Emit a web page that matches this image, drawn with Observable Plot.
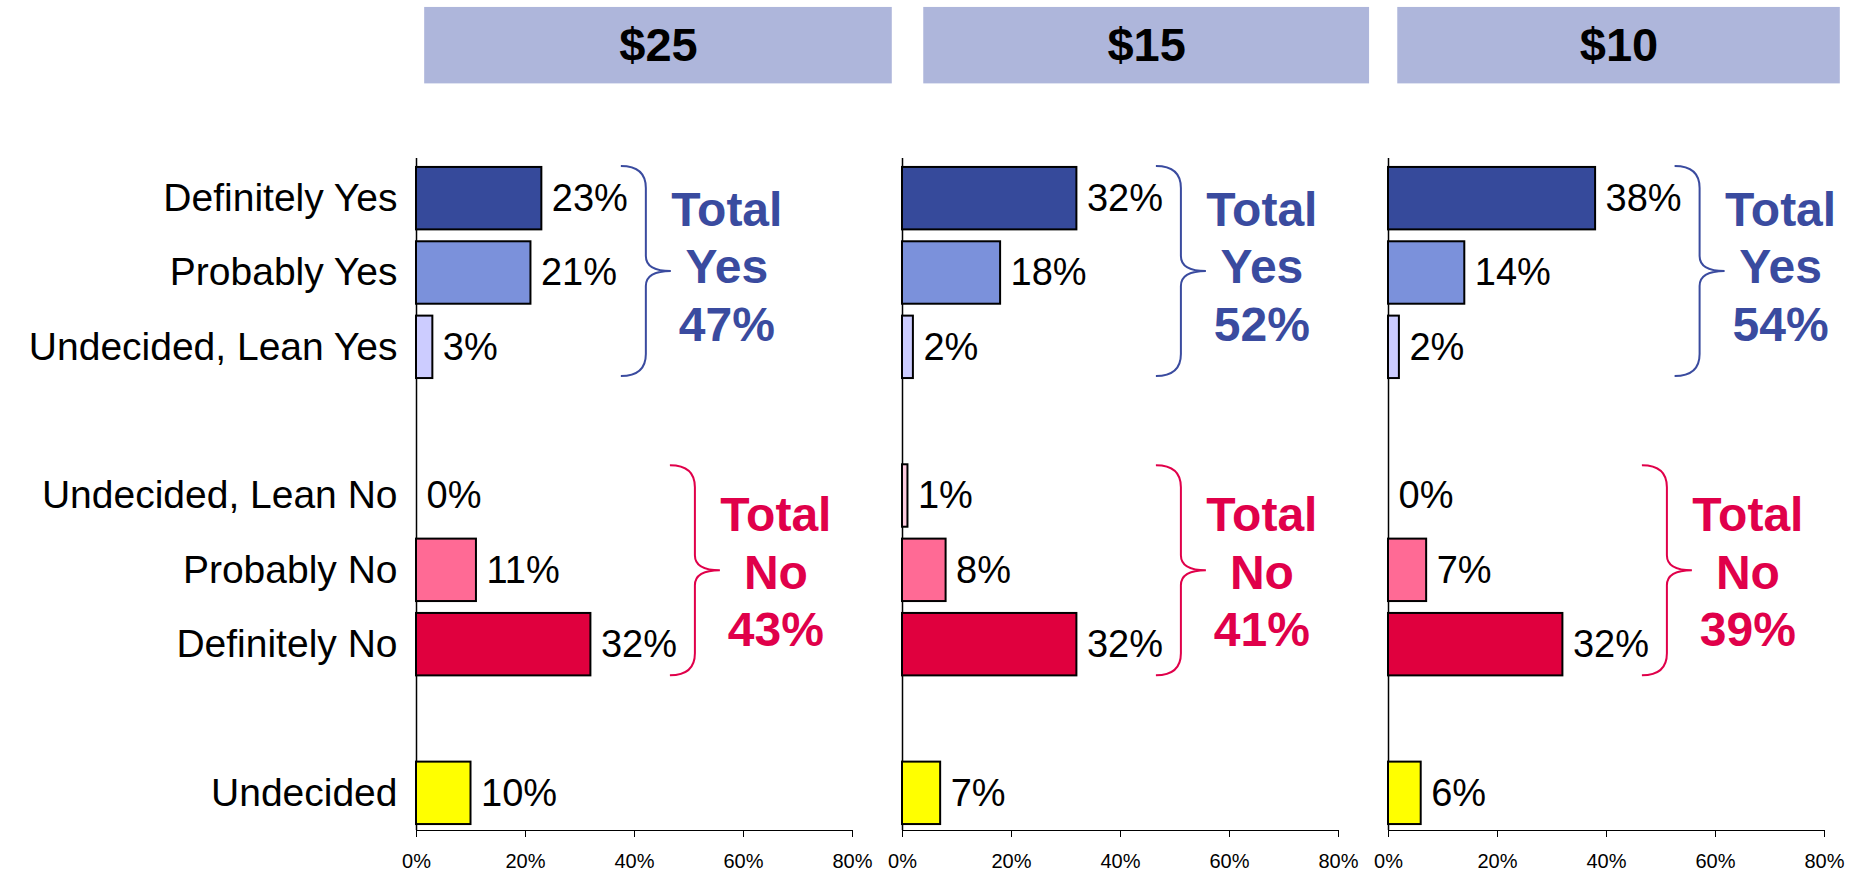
<!DOCTYPE html>
<html>
<head>
<meta charset="utf-8">
<script src="https://cdn.jsdelivr.net/npm/d3@7"></script>
<script src="https://cdn.jsdelivr.net/npm/@observablehq/plot@0.6"></script>
<style>
  html, body { margin: 0; padding: 0; background: #ffffff; }
  #chart svg { display: block; }
</style>
</head>
<body>
<div id="chart"></div>
<script>
// ---------- data ----------
const prices = ["$25", "$15", "$10"];
const categories = [
  "Definitely Yes", "Probably Yes", "Undecided, Lean Yes",
  "Undecided, Lean No", "Probably No", "Definitely No", "Undecided"
];
const values25 = [23, 21, 3, 0, 11, 32, 10];
const values15 = [32, 18, 2, 1, 8, 32, 7];
const values10 = [38, 14, 2, 0, 7, 32, 6];
const totalYes = [47, 52, 54];
const totalNo = [43, 41, 39];
const xTicks = [0, 20, 40, 60, 80];

// ---------- style / layout ----------
const palette = ["#364A9B", "#7B91DB", "#CCCCFF", "#FFCCE0", "#FF6A95", "#E0003E", "#FFFF00"];
const yesColor = "#3A4B9F";
const noColor = "#E0004A";
const headerFill = "#AEB6DB";
const FONT = "'Liberation Sans', Arial, Helvetica, sans-serif";
const BRACE_H = 105;
// header box extent per panel, in x-axis units (layout only)
const headerStart = [1.5, 3.9, 1.7];
const headerEnd = [87.3, 85.7, 82.9];

// band domain with two blank spacer rows
const yDomain = [categories[0], categories[1], categories[2], " ",
                 categories[3], categories[4], categories[5], "  ", categories[6]];

const series = [values25, values15, values10];
const rows = prices.flatMap((p, i) => categories.map((c, j) => ({price: p, category: c, value: series[i][j]})));
const headers = prices.map((p, i) => ({price: p, x1: headerStart[i], x2: headerEnd[i]}));
const yesIdx = [0, 1, 2], noIdx = [3, 4, 5];
const yesGroups = prices.map((p, i) => ({
  price: p, max: d3.max(yesIdx, j => series[i][j]), mid: categories[1],
  label: `Total\nYes\n${totalYes[i]}%`
}));
const noGroups = prices.map((p, i) => ({
  price: p, max: d3.max(noIdx, j => series[i][j]), mid: categories[4],
  label: `Total\nNo\n${totalNo[i]}%`
}));

// curly brace symbol (spine at x=0, tip pointing right at y=0)
const brace = {
  draw(ctx) {
    const H = BRACE_H, w = 25, r = 22;
    ctx.moveTo(-w, -H);
    ctx.bezierCurveTo(-8, -H, 0, -H + 8, 0, -H + r);
    ctx.lineTo(0, -15);
    ctx.bezierCurveTo(0, -4, 10, 0, w, 0);
    ctx.bezierCurveTo(10, 0, 0, 4, 0, 15);
    ctx.lineTo(0, H - r);
    ctx.bezierCurveTo(0, H - 8, -8, H, -w, H);
  }
};

const chart = Plot.plot({
  width: 1858,
  height: 872,
  marginLeft: 416,
  marginRight: 34,
  marginTop: 161,
  marginBottom: 42,
  style: {fontFamily: FONT, fontSize: "20px", color: "black", background: "white"},
  fx: {domain: prices, paddingInner: 50 / 486, paddingOuter: 0, axis: null, round: false},
  x: {domain: [0, 80], ticks: xTicks, tickFormat: d => d + "%", tickSize: 7, tickPadding: 16, line: true, label: null},
  y: {domain: yDomain, paddingInner: 0.16, paddingOuter: 0.08, axis: null, round: false},
  color: {domain: categories, range: palette},
  marks: [
    // header boxes and titles
    Plot.barX(headers, {fx: "price", y: () => yDomain[0], x1: "x1", x2: "x2", dy: -153,
      insetTop: -7, insetBottom: -7, fill: headerFill}),
    Plot.text(headers, {fx: "price", y: () => yDomain[0], x: d => (d.x1 + d.x2) / 2, dy: -153,
      text: "price", fontSize: 47, fontWeight: "bold", fill: "black"}),
    // vertical axis line in each panel
    Plot.ruleX([0], {stroke: "black", strokeWidth: 1.5, insetTop: -3}),
    // bars
    Plot.barX(rows.filter(d => d.value > 0), {fx: "price", y: "category", x: "value",
      fill: "category", stroke: "black", strokeWidth: 2}),
    // value labels
    Plot.text(rows, {fx: "price", y: "category", x: "value", text: d => d.value + "%",
      dx: 10, textAnchor: "start", fontSize: 38, fill: "black"}),
    // category labels (first panel only)
    Plot.text(categories, {fx: () => prices[0], y: d => d, text: d => d, frameAnchor: "left",
      dx: -19, textAnchor: "end", fontSize: 39, fill: "black"}),
    // braces
    Plot.dot(yesGroups, {fx: "price", x: "max", y: "mid", dx: 104, dy: -2, symbol: brace, r: 10,
      fill: "none", stroke: yesColor, strokeWidth: 2}),
    Plot.dot(noGroups, {fx: "price", x: "max", y: "mid", dx: 104, symbol: brace, r: 10,
      fill: "none", stroke: noColor, strokeWidth: 2}),
    // totals
    Plot.text(yesGroups, {fx: "price", x: "max", y: "mid", dx: 185, dy: -8, text: "label",
      fontSize: 48, fontWeight: "bold", fill: yesColor, lineHeight: 1.2}),
    Plot.text(noGroups, {fx: "price", x: "max", y: "mid", dx: 185, text: "label",
      fontSize: 48, fontWeight: "bold", fill: noColor, lineHeight: 1.2})
  ]
});

document.getElementById("chart").appendChild(chart);
</script>
</body>
</html>
